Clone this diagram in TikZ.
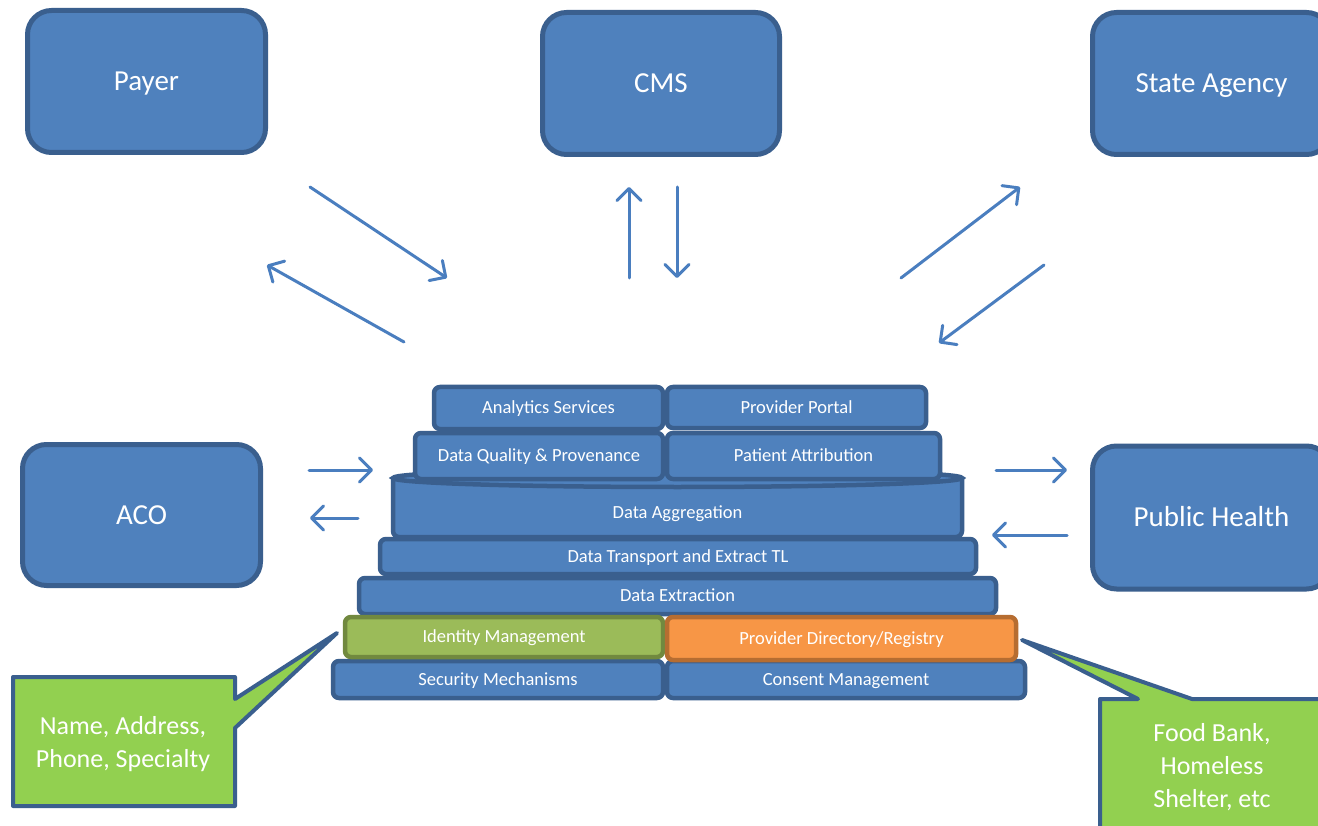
\documentclass[tikz,border=0pt]{standalone}
\usepackage{fontspec}
\setmainfont{Carlito}
\usetikzlibrary{arrows.meta}

\definecolor{boxblue}{HTML}{4F81BD}
\definecolor{boxedge}{HTML}{3A5F8E}
\definecolor{flowblue}{HTML}{4A7EBF}
\definecolor{idgreen}{HTML}{9BBB59}
\definecolor{idgreenedge}{HTML}{71893F}
\definecolor{dirorange}{HTML}{F79646}
\definecolor{dirorangeedge}{HTML}{B66D31}
\definecolor{notegreen}{HTML}{92D050}

\tikzset{
  bigbox/.style={rectangle, rounded corners=24pt, fill=boxblue, draw=boxedge,
    line width=5pt, text=white, inner sep=0pt, text height=18.4pt, text depth=0pt,
    font=\fontsize{29}{35}\selectfont},
  layertext/.style={text=white, inner sep=0pt, text height=11.8pt, text depth=0pt,
    font=\fontsize{18.5}{22}\selectfont},
  layer/.style={layertext, rectangle, rounded corners=6pt, fill=boxblue, draw=boxedge,
    line width=4.5pt},
  flow/.style={draw=flowblue, line width=3pt, line cap=round,
    -{Straight Barb[length=12pt, width=24pt, line cap=round, line join=round]}},
  note/.style={fill=notegreen, draw=boxedge, line width=4pt, line join=round},
  notetext/.style={text=white, align=center, inner sep=0pt,
    font=\fontsize{26}{33}\selectfont}
}

\begin{document}
\begin{tikzpicture}[x=1pt, y=-1pt]
\useasboundingbox (0,0) rectangle (1318,826);
\clip (0,0) rectangle (1318,826);
\fill[white] (0,0) rectangle (1318,826);

% outer partners
\node[bigbox, minimum width=238pt, minimum height=142pt] (payer) at (146.5,81.5) {Payer};
\node[bigbox, minimum width=237pt, minimum height=142pt] (cms) at (661,83.5) {CMS};
\node[bigbox, minimum width=238pt, minimum height=142pt] (state) at (1211.5,83.5) {State Agency};
\node[bigbox, minimum width=238pt, minimum height=141pt] (aco) at (141.5,515) {ACO};
\node[bigbox, minimum width=238pt, minimum height=143pt] (ph) at (1211.5,517.5) {Public Health};

% flow end points
\coordinate (p1a) at (310,187);  \coordinate (p1b) at (447,278);
\coordinate (p2a) at (404,342);  \coordinate (p2b) at (267,265);
\coordinate (c1a) at (629,278);  \coordinate (c1b) at (629,187);
\coordinate (c2a) at (677,187);  \coordinate (c2b) at (677,278);
\coordinate (s1a) at (901,278);  \coordinate (s1b) at (1020,187);
\coordinate (s2a) at (1044,265); \coordinate (s2b) at (939,343);
\coordinate (a1a) at (309,470);  \coordinate (a1b) at (373,470);
\coordinate (a2a) at (358,518);  \coordinate (a2b) at (310,518);
\coordinate (h1a) at (996,470);  \coordinate (h1b) at (1067,470);
\coordinate (h2a) at (1067,535); \coordinate (h2b) at (992,535);

\foreach \f in {p1,p2,c1,c2,s1,s2,a1,a2,h1,h2}
  \draw[flow] (\f a) -- (\f b);

% aggregation drum
\filldraw[fill=boxblue, draw=boxedge, line width=4.5pt, rounded corners=6pt]
  (393,478) -- (393,537) -- (962,537) -- (962,478);
\filldraw[fill=boxblue, draw=boxedge, line width=4.5pt]
  (677.5,478) ellipse [x radius=284.5pt, y radius=9pt];
\node[layertext] (agg) at (677.5,513) {Data Aggregation};

% lower layers
\node[layer, minimum width=596pt, minimum height=35pt] (transport) at (678,556.5) {Data Transport and Extract TL};
\node[layer, minimum width=637pt, minimum height=36pt] (extract) at (677.5,596) {Data Extraction};
\node[layer, minimum width=330pt, minimum height=37pt] (security) at (498,679.5) {Security Mechanisms};
\node[layer, minimum width=358pt, minimum height=37pt] (consent) at (846,679.5) {Consent Management};
\node[layer, fill=idgreen, draw=idgreenedge, minimum width=318pt, minimum height=40pt] (identity) at (504,637) {Identity Management};
\node[layer, fill=dirorange, draw=dirorangeedge, minimum width=349pt, minimum height=43pt] (directory) at (841.5,638.5) {Provider Directory/Registry};

% upper layers
\node[layer, minimum width=248pt, minimum height=46pt] (quality) at (539,456) {Data Quality \& Provenance};
\node[layer, minimum width=273pt, minimum height=46pt] (attrib) at (803.5,456) {Patient Attribution};
\node[layer, minimum width=229pt, minimum height=42pt] (analytics) at (548.5,408) {Analytics Services};
\node[layer, minimum width=259pt, minimum height=41pt] (portal) at (796.5,407.5) {Provider Portal};

% callouts
\draw[note] (13,677) -- (235,677) -- (235,699) -- (337,633) -- (235,728)
  -- (235,806) -- (13,806) -- cycle;
\node[notetext] (idnote) at (123,744) {Name, Address,\\Phone, Specialty};

\draw[note] (1100,699) -- (1138,699) -- (1022,640) -- (1192,699) -- (1340,699)
  -- (1340,850) -- (1100,850) -- cycle;
\node[notetext] (dirnote) at (1212,767) {Food Bank,\\Homeless\\Shelter, etc};
\end{tikzpicture}
\end{document}
